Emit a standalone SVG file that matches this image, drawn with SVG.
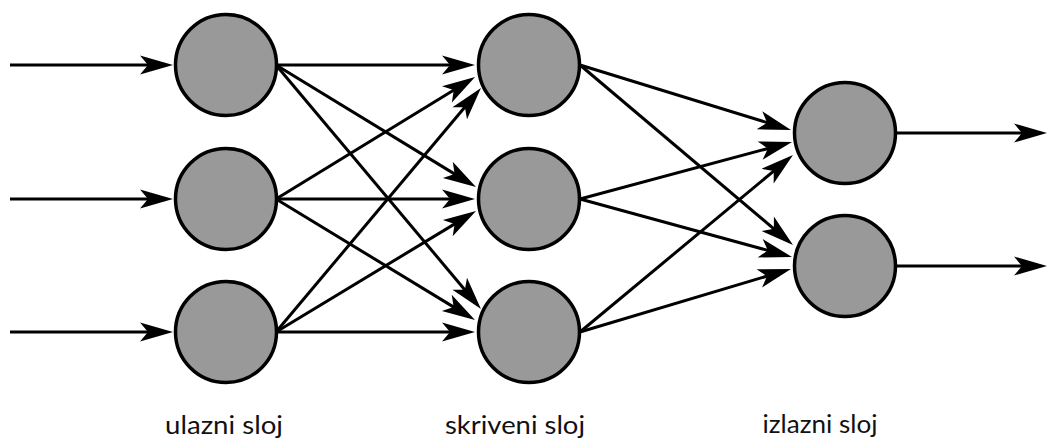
<svg xmlns="http://www.w3.org/2000/svg" width="1049" height="439" viewBox="0 0 1049 439">
<style>
.node{fill:#999999;stroke:#000000;stroke-width:3.5}
.edge{stroke:#000000;stroke-width:3;fill:none;marker-end:url(#ah)}
.lbl{font-family:Lato,"Open Sans","Liberation Sans",sans-serif;font-size:25px;fill:#111111;text-anchor:middle}
</style>
<defs>
<marker id="ah" markerUnits="userSpaceOnUse" markerWidth="40" markerHeight="24" viewBox="-15 -12 40 24" refX="0" refY="0" orient="auto" overflow="visible">
<path d="M20,0 L-13,-9.5 L-5,0 L-13,9.5 Z" fill="#000000"/>
</marker>
</defs>
<rect width="1049" height="439" fill="#ffffff"/>
<g id="connectors">
<line class="edge" x1="10" y1="65" x2="153" y2="65"/>
<line class="edge" x1="10" y1="199" x2="153" y2="199"/>
<line class="edge" x1="10" y1="332" x2="153" y2="332"/>
<line class="edge" x1="276" y1="65" x2="455" y2="65"/>
<line class="edge" x1="276" y1="65" x2="458.9" y2="176.6"/>
<line class="edge" x1="276" y1="65" x2="468.1" y2="293.7"/>
<line class="edge" x1="276" y1="199" x2="458.0" y2="87.5"/>
<line class="edge" x1="276" y1="199" x2="455" y2="199"/>
<line class="edge" x1="276" y1="199" x2="457.9" y2="309.6"/>
<line class="edge" x1="276" y1="332" x2="468.1" y2="103.3"/>
<line class="edge" x1="276" y1="332" x2="458.9" y2="221.4"/>
<line class="edge" x1="276" y1="332" x2="455" y2="332"/>
<line class="edge" x1="580" y1="65" x2="771.9" y2="124.1"/>
<line class="edge" x1="580" y1="65" x2="777.7" y2="232.1"/>
<line class="edge" x1="580" y1="199" x2="772.7" y2="147.2"/>
<line class="edge" x1="580" y1="199" x2="772.7" y2="251.7"/>
<line class="edge" x1="580" y1="332" x2="777.6" y2="167.8"/>
<line class="edge" x1="580" y1="332" x2="771.8" y2="274.7"/>
<line class="edge" x1="896" y1="133" x2="1027" y2="133"/>
<line class="edge" x1="896" y1="266" x2="1027" y2="266"/>
</g>
<g id="input1"><circle class="node" cx="226" cy="65" r="50.5"/></g>
<g id="input2"><circle class="node" cx="226" cy="199" r="50.5"/></g>
<g id="input3"><circle class="node" cx="226" cy="332" r="50.5"/></g>
<g id="hidden1"><circle class="node" cx="529" cy="65" r="50.5"/></g>
<g id="hidden2"><circle class="node" cx="529" cy="199" r="50.5"/></g>
<g id="hidden3"><circle class="node" cx="529" cy="332" r="50.5"/></g>
<g id="output1"><circle class="node" cx="845" cy="133" r="50.5"/></g>
<g id="output2"><circle class="node" cx="845" cy="266" r="50.5"/></g>
<g id="labels">
<text class="lbl" x="224" y="434" textLength="118" lengthAdjust="spacingAndGlyphs">ulazni sloj</text>
<text class="lbl" x="515" y="434" textLength="140" lengthAdjust="spacingAndGlyphs">skriveni sloj</text>
<text class="lbl" x="820" y="433" textLength="115" lengthAdjust="spacingAndGlyphs">izlazni sloj</text>
</g>
</svg>
